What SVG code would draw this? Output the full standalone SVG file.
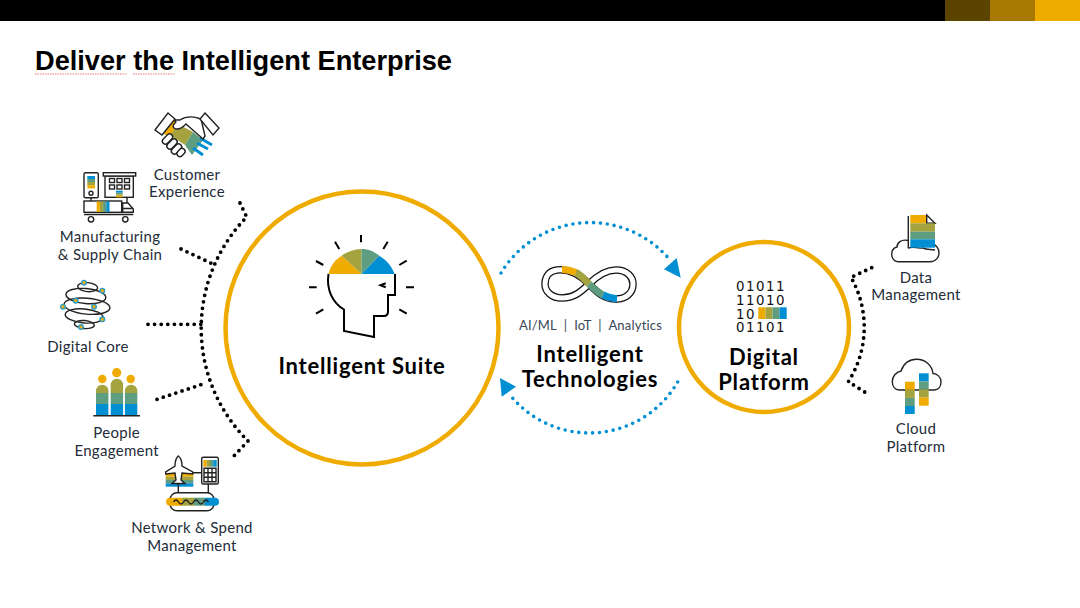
<svg xmlns="http://www.w3.org/2000/svg" width="1080" height="608" viewBox="0 0 1080 608">
<style>
text{font-family:"Lato","Open Sans","Liberation Sans",sans-serif;text-anchor:middle}
.l{font-size:15px;fill:#232c38;letter-spacing:.3px}
.b{font-size:22px;font-weight:700;fill:#000;letter-spacing:.8px}
.k{fill:none;stroke:#222;stroke-width:1.4}
.kw{fill:#fff;stroke:#222;stroke-width:1.4}
.y{fill:#f0ab00}.o{fill:#a5a33f}.g{fill:#5f9d80}.u{fill:#008fd3}
.ring{fill:#fff;stroke:#f0ab00;stroke-width:4.5}
.dk{fill:none;stroke:#000;stroke-width:3.8;stroke-linecap:round;stroke-dasharray:0 6.6}
.db{fill:none;stroke:#008fd3;stroke-width:3.6;stroke-linecap:round;stroke-dasharray:0 6.9}
.ray{stroke:#000;stroke-width:2;fill:none}
.n{fill:#f0ab00;stroke:#2a9fc9;stroke-width:1.4}
.bin{font-family:"DejaVu Sans",sans-serif;font-size:13.4px;fill:#111;text-anchor:start;letter-spacing:1.5px}
</style>
<rect width="1080" height="608" fill="#fff"/>
<g id="header">
<rect width="945" height="21" fill="#000"/>
<rect x="945" width="45" height="21" fill="#5b4300"/>
<rect x="990" width="45" height="21" fill="#a97800"/>
<rect x="1035" width="45" height="21" fill="#f0ab00"/>
</g>
<g id="title">
<text x="35" y="70" style="font-family:'Liberation Sans',sans-serif;font-weight:700;font-size:27.2px;text-anchor:start;fill:#000">Deliver the Intelligent Enterprise</text>
<path d="M35 74H127M133 74H175" stroke="#e77" stroke-width="1" stroke-dasharray="1.500 1" fill="none"/>
</g>
<g id="connectors">
<path class="dk" d="M240 203L246.700 217A159 159 0 0 0 248 441L232 458"/>
<path class="dk" d="M181 249L215 265"/>
<path class="dk" d="M148 324.300H203"/>
<path class="dk" d="M157 399.300L203 384"/>
<path class="dk" d="M871.700 267.700L851 277.300A101 101 0 0 1 848.300 381.700L868.300 394.300"/>
<path class="db" d="M501 273A104 104 0 0 1 670 260"/>
<polygon class="u" points="676.700,258 664,269.300 680.700,277.700"/>
<path class="db" d="M677.700 382A102 102 0 0 1 510 395"/>
<polygon class="u" points="500,378 516,386.700 501.700,396.700"/>
</g>
<g id="intelligent-suite">
<circle class="ring" cx="362" cy="328" r="136.500"/>
<path class="y" d="M361.500 274H328.500C330 266 335 260 341.700 255.700Z"/>
<path class="o" d="M361.500 274L341.700 255.700C347 252 354 249 361.500 249Z"/>
<path class="g" d="M361.500 274V249C369 249 374 251.500 379.300 255.700Z"/>
<path class="u" d="M361.500 274L379.300 255.700C386 260 392 266 394.500 274Z"/>
<path d="M328.500 274C326 290 333 303 344 309.500V331L374 337V316H384C387 316 388 314 388 311V295H395V274" fill="none" stroke="#000" stroke-width="2"/>
<path class="ray" d="M385.700 283.300L380.500 285.300L385.700 287.300M361 235V242.300M335 241.700L339.300 249M387.700 241.700L383.300 249M316 261L323.300 265M406.700 260.700L399.300 265M309 287.300H316.700M406 287.300H414M316 313.700L323.300 309.300M406.700 313.700L399.300 309.300"/>
<text class="b" x="362" y="374">Intelligent Suite</text>
</g>
<g id="intelligent-technologies">
<path d="M589 284C577 272 566 269 557 270C548 271 545 278 545 284C545 292 552 298 562 298C573 298 580 293 589 284C598 275 606 270 616 270C627 270 633 277 633 284C633 293 626 299 616 299C604 299 598 293 589 284Z" fill="none" stroke="#111" stroke-width="7.500"/>
<path d="M589 284C577 272 566 269 557 270C548 271 545 278 545 284C545 292 552 298 562 298C573 298 580 293 589 284C598 275 606 270 616 270C627 270 633 277 633 284C633 293 626 299 616 299C604 299 598 293 589 284Z" fill="none" stroke="#fff" stroke-width="5"/>
<g fill="none" stroke-width="7">
<path stroke="#f0ab00" d="M562 269.500C567 269.500 571 270.500 576 272.500"/>
<path stroke="#a5a33f" d="M576 272.500C581 275 585 280 589 284"/>
<path stroke="#5f9d80" d="M589 284C593 288 597 292 603 295"/>
<path stroke="#008fd3" d="M603 295C608 297.500 612 298.500 617 298.800"/>
</g>
<text x="590.500" y="330" style="font-size:13px;fill:#3a4656;letter-spacing:.2px">AI/ML&#160;&#160;|&#160;&#160;IoT&#160;&#160;|&#160;&#160;Analytics</text>
<text class="b" x="590" y="362">Intelligent</text>
<text class="b" x="590" y="387">Technologies</text>
</g>
<g id="digital-platform">
<circle class="ring" cx="764" cy="327" r="85"/>
<text class="bin"><tspan x="736" y="291">01011</tspan><tspan x="736" y="304.500">11010</tspan><tspan x="736" y="318.500">10</tspan><tspan x="736" y="332">01101</tspan></text>
<rect class="y" x="758.300" y="307.300" width="7.100" height="11.700"/>
<rect class="o" x="765.400" y="307.300" width="7.100" height="11.700"/>
<rect class="g" x="772.500" y="307.300" width="7.100" height="11.700"/>
<rect class="u" x="779.600" y="307.300" width="7.100" height="11.700"/>
<text class="b" x="764" y="365">Digital</text>
<text class="b" x="764" y="390">Platform</text>
</g>
<g id="customer-experience">
<polygon class="y" points="171,118 178,122 170,137 162,133"/>
<polygon class="o" points="178,124 193,132 185,145 170,135"/>
<polygon class="g" points="193,132 203,140 192,155 185,145"/>
<path d="M200 138L212 145M197 143L208 149M193 148L203 155" stroke="#008fd3" stroke-width="3" fill="none"/>
<path d="M174 120L180 120C186 116 193 116 201 119L205 136L203 139L186 124C183 127 178 131 174 128C172 126 174 124 176 122Z" fill="#fff" stroke="#222" stroke-width="1.400" stroke-linejoin="round"/>
<g class="kw">
<rect x="-6" y="-3" width="12" height="6" rx="3" transform="translate(167.500 139) rotate(-45)"/>
<rect x="-6" y="-3" width="12" height="6" rx="3" transform="translate(172 144) rotate(-45)"/>
<rect x="-6" y="-3" width="12" height="6" rx="3" transform="translate(176.500 149) rotate(-45)"/>
<rect x="-4.500" y="-3" width="9" height="6" rx="3" transform="translate(181 152.500) rotate(-45)"/>
</g>
<polygon class="kw" points="155,130 168,113 175,119 162,135"/>
<polygon class="kw" points="205,113 219,128 213,135 200,119"/>
<text class="l" x="187" y="180">Customer</text>
<text class="l" x="187" y="197">Experience</text>
</g>
<g id="manufacturing-supply-chain">
<rect class="k" x="84" y="172.700" width="14.300" height="25" rx="1.500"/>
<rect class="u" x="87.300" y="176" width="7.700" height="3"/><rect class="g" x="87.300" y="179" width="7.700" height="3"/><rect class="o" x="87.300" y="182" width="7.700" height="3.200"/><rect class="y" x="87.300" y="185.200" width="7.700" height="3.200"/>
<circle class="k" cx="91" cy="193.300" r="2"/>
<rect class="k" x="105" y="176" width="28.300" height="21.300"/>
<rect class="kw" x="103.300" y="172.700" width="32.400" height="3.300"/>
<g class="k"><rect x="109.500" y="178.500" width="5" height="4"/><rect x="117" y="178.500" width="5" height="4"/><rect x="124.500" y="178.500" width="5" height="4"/><rect x="109.500" y="185" width="5" height="4"/><rect x="117" y="185" width="5" height="4"/><rect x="124.500" y="185" width="5" height="4"/></g>
<rect class="u" x="116" y="190.700" width="6.700" height="2"/><rect class="g" x="116" y="192.700" width="6.700" height="1.600"/><rect class="o" x="116" y="194.300" width="6.700" height="1.500"/><rect class="y" x="116" y="195.800" width="6.700" height="1.500"/>
<rect class="k" x="84" y="201" width="37.700" height="11.300"/>
<rect class="y" x="96.700" y="201.500" width="3.200" height="10.500"/><rect class="o" x="99.900" y="201.500" width="3.200" height="10.500"/><rect class="g" x="103.100" y="201.500" width="3.200" height="10.500"/><rect class="u" x="106.300" y="201.500" width="3.200" height="10.500"/>
<path class="k" d="M122.700 212.300V203H128L133.300 209V212.300ZM122.700 208.500H133M91 197.700V201M127 197.300V203M84 214.500H133.300"/>
<circle class="kw" cx="91" cy="219.300" r="2.700"/><circle class="kw" cx="125.300" cy="219.300" r="2.700"/>
<text class="l" x="110" y="242">Manufacturing</text>
<text class="l" x="110" y="259.500">&amp; Supply Chain</text>
</g>
<g id="digital-core">
<g class="k" transform="rotate(5 85 306)">
<ellipse cx="86" cy="287" rx="10" ry="4.500"/>
<ellipse cx="85" cy="296" rx="20" ry="7.500"/>
<ellipse cx="87" cy="306" rx="23" ry="8"/>
<ellipse cx="85" cy="316" rx="19" ry="7"/>
<ellipse cx="86" cy="324.500" rx="10" ry="4"/>
</g>
<circle class="n" cx="84" cy="282.700" r="2.300"/><circle class="n" cx="102.300" cy="290.700" r="2.300"/><circle class="n" cx="75.700" cy="300.700" r="2.300"/><circle class="n" cx="63" cy="306.700" r="2.300"/><circle class="n" cx="94" cy="306.700" r="2.300"/><circle class="n" cx="102.300" cy="319.300" r="2.300"/><circle class="n" cx="81" cy="327" r="2.300"/>
<text class="l" x="88" y="352">Digital Core</text>
</g>
<g id="people-engagement">
<circle class="y" cx="102.300" cy="379" r="4.200"/><circle class="y" cx="116.700" cy="372.700" r="4.600"/><circle class="y" cx="130.700" cy="379" r="4.200"/>
<path class="o" d="M96 393V391A6.200 6.200 0 0 1 108.400 391V393Z"/><rect class="g" x="96" y="393" width="12.400" height="11"/><rect class="u" x="96" y="404" width="12.400" height="11"/>
<path class="o" d="M110.700 393V385A6.200 6.200 0 0 1 123.100 385V393Z"/><rect class="g" x="110.700" y="393" width="12.400" height="11"/><rect class="u" x="110.700" y="404" width="12.400" height="11"/>
<path class="o" d="M124.900 393V391A6.200 6.200 0 0 1 137.300 391V393Z"/><rect class="g" x="124.900" y="393" width="12.400" height="11"/><rect class="u" x="124.900" y="404" width="12.400" height="11"/>
<path class="k" d="M93.300 415.700H140"/>
<text class="l" x="116.700" y="438">People</text>
<text class="l" x="116.700" y="456">Engagement</text>
</g>
<g id="network-spend-management">
<rect class="y" x="165.700" y="473.300" width="27.600" height="3.400"/><rect class="o" x="165.700" y="476.700" width="27.600" height="3.300"/><rect class="g" x="165.700" y="480" width="27.600" height="3.300"/><rect class="u" x="165.700" y="483.300" width="27.600" height="3.400"/>
<path class="kw" d="M178.300 456C181 458 182 462 182 466L192.700 472V474L182 473L181 480L185 483.500H172L176 480L175 473L165.700 474V472L175 466C175 462 176 458 178.300 456Z"/>
<path class="k" d="M193 472.700H201.700M178.300 483.500V493M208.300 484V493"/>
<rect class="kw" x="201.700" y="457.300" width="16.600" height="26.700" rx="1.500"/>
<rect class="y" x="203.300" y="460" width="3.400" height="6.700"/><rect class="o" x="206.700" y="460" width="3.300" height="6.700"/><rect class="g" x="210" y="460" width="3.300" height="6.700"/><rect class="u" x="213.300" y="460" width="3.400" height="6.700"/>
<path class="k" d="M204 468.300H216V481.700H204ZM204 472.800H216M204 477.200H216M208 468.300V481.700M212 468.300V481.700"/>
<rect class="kw" x="170" y="492.700" width="44" height="18" rx="7"/>
<path class="y" d="M170 497.700H182V505.700H170A4 4 0 0 1 170 497.700Z"/><rect class="o" x="182" y="497.700" width="12" height="8"/><rect class="g" x="194" y="497.700" width="11" height="8"/><path class="u" d="M205 497.700H215A4 4 0 0 1 215 505.700H205Z"/>
<path class="k" d="M173.500 502Q176 498 178.500 502T183.500 502T188.500 502T193.500 502T198.500 502T203.500 502T208.500 502"/>
<text class="l" x="192" y="533">Network &amp; Spend</text>
<text class="l" x="192" y="551">Management</text>
</g>
<g id="data-management">
<path class="k" d="M898 261.700H930C936 261.700 939 257 939 253C939 248.500 936 245 933 244M908 240.500C901 239 897 243 897 247C893 248 891.700 251 891.700 254C891.700 258 894 261.700 898 261.700M908 248C915 246 920 249 923 248C927 250 930 249 935 250"/>
<polygon class="y" points="910.300,215 926.700,215 926.700,223.300 910.300,223.300"/>
<path class="kw" d="M926.700 215L935 223.300H926.700Z"/>
<rect class="o" x="910.300" y="223.300" width="24.700" height="8.400"/><rect class="g" x="910.300" y="231.700" width="24.700" height="7.600"/><rect class="u" x="910.300" y="239.300" width="24.700" height="8.400"/>
<path class="k" d="M908.300 216V248.300"/>
<text class="l" x="916" y="283">Data</text>
<text class="l" x="916" y="300">Management</text>
</g>
<g id="cloud-platform">
<path class="k" d="M899.300 390H934.300C938.500 390 941 386.500 941 382C941 377 937 373.500 933 373.500C932 365 925 359.300 916.700 359.300C909 359.300 903.500 364 901 371C896 372 892.300 376.500 892.300 381.500C892.300 386.500 895 390 899.300 390Z"/>
<rect class="y" x="905" y="381.700" width="9.700" height="8.100"/><rect class="o" x="905" y="389.800" width="9.700" height="8.100"/><rect class="g" x="905" y="397.900" width="9.700" height="8.100"/><rect class="u" x="905" y="406" width="9.700" height="8"/>
<rect class="u" x="919" y="373.300" width="9.700" height="8.100"/><rect class="g" x="919" y="381.400" width="9.700" height="8.100"/><rect class="o" x="919" y="389.500" width="9.700" height="8.100"/><rect class="y" x="919" y="397.600" width="9.700" height="8.100"/>
<text class="l" x="916" y="434">Cloud</text>
<text class="l" x="916" y="452">Platform</text>
</g>
</svg>
